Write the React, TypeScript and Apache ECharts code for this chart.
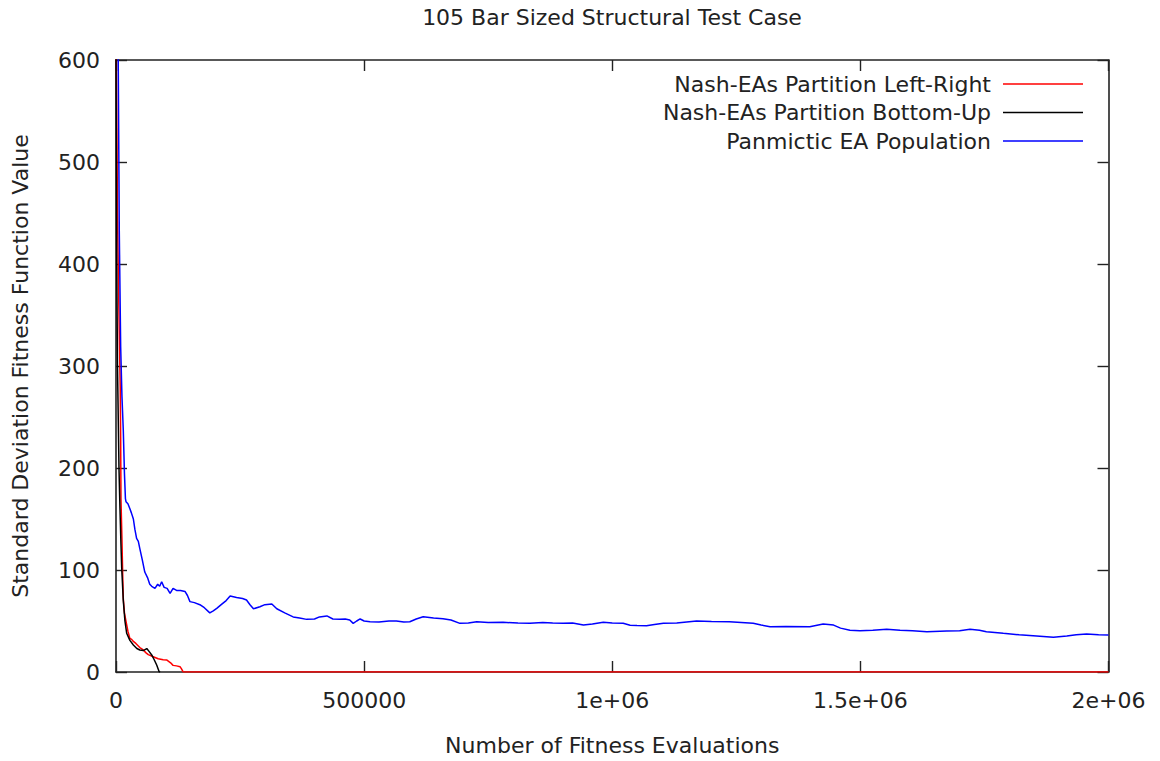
import React, { useEffect, useRef } from "react";
import * as echarts from "echarts";

const chartTitle = "105 Bar Sized Structural Test Case";
const xAxisName = "Number of Fitness Evaluations";
const yAxisName = "Standard Deviation Fitness Function Value";
const seriesNames = [
  "Nash-EAs Partition Left-Right",
  "Nash-EAs Partition Bottom-Up",
  "Panmictic EA Population",
];
const seriesColors = ["#ff0000", "#000000", "#0000ff"];
const xTickValues = [0, 500000, 1000000, 1500000, 2000000];
const xTickLabels = ["0", "500000", "1e+06", "1.5e+06", "2e+06"];
const yTickLabels = ["0", "100", "200", "300", "400", "500", "600"];

// [evaluations, std dev]
const leftRight: [number, number][] = [
  [0, 650], [3000, 450], [5000, 380], [7000, 320], [8500, 280], [9400, 230],
  [10000, 170], [12000, 130], [13500, 95], [14700, 72], [17000, 58],
  [20000, 50], [24000, 40], [28000, 33], [31600, 32], [35000, 30],
  [40000, 28], [44000, 26], [48000, 24], [55000, 21.6], [60000, 19],
  [65000, 17], [75000, 15], [85000, 13], [95000, 12], [102000, 11.8],
  [110000, 9], [115000, 6.5], [122000, 6], [129000, 5.2], [132000, 3],
  [135000, 0.3], [138000, 0], [2000000, 0],
];
const bottomUp: [number, number][] = [
  [0, 620], [1500, 400], [3000, 300], [4600, 247], [6000, 200], [8000, 160],
  [10000, 125], [11500, 102], [14700, 70], [18000, 50], [21500, 38],
  [28000, 31], [35000, 26.5], [42000, 23], [48000, 21.6], [55000, 21],
  [62000, 23], [67000, 20], [72000, 16.7], [77000, 12], [82000, 6.9],
  [87000, 0.3], [89000, 0],
];
const panmictic: [number, number][] = [
  [0, 1200], [4000, 640], [6600, 433], [9400, 319], [12000, 270], [14700, 237],
  [17000, 195], [19000, 170], [20150, 167], [24000, 165], [28000, 160],
  [31000, 156], [35000, 150], [38000, 140], [41500, 131], [45000, 128],
  [48000, 121], [53000, 110], [58000, 98], [64000, 92], [68000, 86],
  [72000, 84], [78500, 82], [84000, 86], [88000, 84], [92000, 88.5],
  [97000, 83], [103000, 82], [109000, 77], [115000, 82], [122000, 80],
  [130000, 80], [139000, 79], [144000, 75], [149000, 69], [158000, 68],
  [169000, 66], [178000, 63], [189000, 58], [196000, 60], [203000, 62.4],
  [212000, 66], [222000, 70], [230000, 74.5], [243000, 73], [255000, 72],
  [263000, 70.6], [270000, 66], [277000, 62], [290000, 64], [300000, 66],
  [314000, 66.7], [324000, 62], [340000, 58], [357000, 54], [370000, 53],
  [384000, 51.6], [400000, 52], [410000, 54], [425000, 55], [437000, 52],
  [451000, 51.6], [462000, 52], [471000, 51], [478000, 47.7], [485000, 50],
  [492000, 52], [500000, 50], [512000, 49.3], [530000, 49], [550000, 50],
  [565000, 50], [580000, 49], [592000, 49.3], [605000, 52], [619000, 54.2],
  [640000, 53], [659000, 52.3], [675000, 51], [693000, 47.7], [710000, 48],
  [727000, 49.3], [750000, 48.5], [780000, 48.7], [810000, 48], [834000, 47.7],
  [860000, 48.5], [880000, 48], [901000, 47.7], [920000, 48], [942000, 46],
  [960000, 47], [982000, 48.7], [1000000, 48], [1022000, 47.7], [1036000, 45.8],
  [1050000, 45.5], [1069000, 45.4], [1085000, 46.5], [1103000, 47.7],
  [1130000, 48], [1150000, 49], [1170000, 50], [1200000, 49.5], [1236000, 49.3],
  [1260000, 48.5], [1284000, 47.7], [1300000, 46], [1318000, 44.4],
  [1350000, 44.5], [1398000, 44.4], [1425000, 47], [1446000, 46],
  [1460000, 43], [1479000, 41], [1499000, 40.5], [1525000, 41],
  [1553000, 41.8], [1580000, 41], [1605000, 40.5], [1634000, 39.5],
  [1674000, 40.2], [1700000, 40.5], [1721000, 41.8], [1740000, 41],
  [1754000, 39.5], [1788000, 37.9], [1820000, 36.5], [1855000, 35.3],
  [1889000, 34], [1916000, 35.3], [1935000, 36.5], [1956000, 37.3],
  [1980000, 36.5], [2000000, 36.3],
];

const FONT = "DejaVu Sans";
const FS = 22;
const TEXT = "#222";

export default function App() {
  const ref = useRef<HTMLDivElement>(null);
  useEffect(() => {
    if (!ref.current) return;
    const chart = echarts.init(ref.current, null, { renderer: "svg" });
    const frameLine = { show: true, onZero: false, lineStyle: { color: "#222", width: 1.6 } };
    const ticks = { show: true, inside: true, length: 11, lineStyle: { color: "#222", width: 1.4 } };
    const xFmt = (v: number) => {
      const i = xTickValues.indexOf(v);
      return i >= 0 ? xTickLabels[i] : "";
    };
    const yFmt = (v: number) => yTickLabels[Math.round(v / 100)] ?? "";
    chart.setOption({
      animation: false,
      backgroundColor: "#ffffff",
      textStyle: { fontFamily: FONT },
      title: {
        text: chartTitle,
        left: 612,
        textAlign: "center",
        top: 6,
        padding: 0,
        textStyle: { fontFamily: FONT, fontSize: FS, fontWeight: "normal", color: TEXT },
      },
      legend: {
        orient: "vertical",
        right: 77,
        top: 73,
        padding: 0,
        align: "right",
        icon: "rect",
        itemWidth: 80,
        itemHeight: 1.6,
        itemGap: 6.5,
        data: seriesNames,
        textStyle: { fontFamily: FONT, fontSize: FS, color: TEXT, padding: [0, 7, 0, 0] },
      },
      grid: { left: 116, right: 51.5, top: 60, bottom: 89, containLabel: false },
      xAxis: [
        {
          type: "value",
          min: 0,
          max: 2000000,
          interval: 500000,
          name: xAxisName,
          nameLocation: "middle",
          nameGap: 62,
          nameTextStyle: { fontFamily: FONT, fontSize: FS, color: TEXT },
          axisLine: frameLine,
          axisTick: ticks,
          splitLine: { show: false },
          axisLabel: { formatter: xFmt, margin: 17, fontFamily: FONT, fontSize: FS, color: TEXT },
        },
        {
          type: "value",
          position: "top",
          min: 0,
          max: 2000000,
          interval: 500000,
          axisLine: frameLine,
          axisTick: ticks,
          splitLine: { show: false },
          axisLabel: { show: false },
        },
      ],
      yAxis: [
        {
          type: "value",
          min: 0,
          max: 600,
          interval: 100,
          name: yAxisName,
          nameLocation: "middle",
          nameGap: 85,
          nameTextStyle: { fontFamily: FONT, fontSize: FS, color: TEXT },
          axisLine: frameLine,
          axisTick: ticks,
          splitLine: { show: false },
          axisLabel: { formatter: yFmt, margin: 16, fontFamily: FONT, fontSize: FS, color: TEXT },
        },
        {
          type: "value",
          position: "right",
          min: 0,
          max: 600,
          interval: 100,
          axisLine: frameLine,
          axisTick: ticks,
          splitLine: { show: false },
          axisLabel: { show: false },
        },
      ],
      series: [
        { name: seriesNames[0], data: leftRight, color: seriesColors[0] },
        { name: seriesNames[1], data: bottomUp, color: seriesColors[1] },
        { name: seriesNames[2], data: panmictic, color: seriesColors[2] },
      ].map((s) => ({
        type: "line",
        name: s.name,
        data: s.data,
        xAxisIndex: 0,
        yAxisIndex: 0,
        symbol: "none",
        showSymbol: false,
        clip: true,
        itemStyle: { color: s.color },
        lineStyle: { color: s.color, width: 1.5 },
      })),
    });
    return () => chart.dispose();
  }, []);
  return (
    <div
      ref={ref}
      style={{ position: "absolute", left: 0, top: 0, width: 1160, height: 761, background: "#fff" }}
    />
  );
}
